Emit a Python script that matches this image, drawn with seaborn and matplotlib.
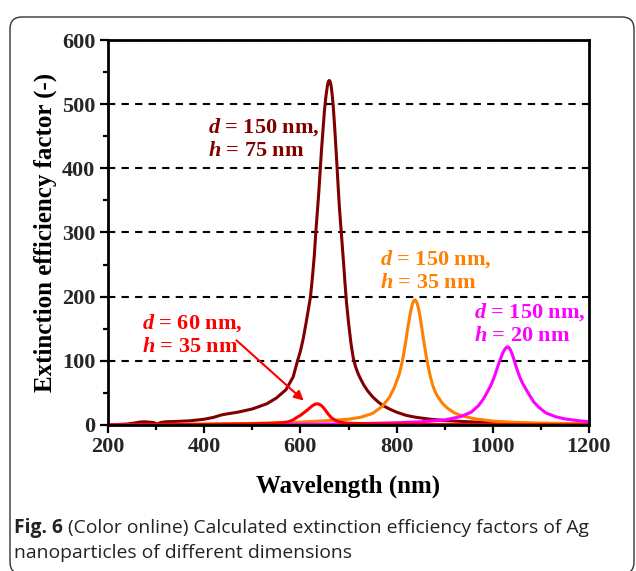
import numpy as np
import pandas as pd
import matplotlib
matplotlib.use("Agg")
import matplotlib.pyplot as plt
import seaborn as sns
from matplotlib.patches import FancyBboxPatch
from matplotlib.ticker import MultipleLocator

# ---- data ----
wl_d150_h75 = [200, 220, 240, 255, 265, 275, 285, 295, 302, 310, 320, 340, 370, 400, 420, 435, 445,
               470, 500, 530, 550, 570, 585, 594, 600, 606, 612, 617, 621, 625, 629, 632, 635, 638,
               641, 644, 647, 650, 653, 656, 658, 660, 662, 664, 666, 668, 670, 672, 674, 676, 678,
               681, 684, 687, 690, 693, 696, 700, 705, 710, 715, 720, 725, 732, 740, 750, 760, 770,
               785, 800, 820, 840, 870, 900, 950, 1000, 1100, 1200]
q_d150_h75 = [0.5, 0.8, 1.5, 3, 4.5, 5, 4.5, 3.8, 1.5, 4, 5, 5.5, 6.5, 9, 12, 15.5, 17,
              20, 25, 33, 42, 55, 75, 100, 115, 135, 160, 182, 200, 230, 265, 300, 330, 360,
              395, 430, 460, 490, 512, 528, 535, 537, 535, 528, 515, 500, 478, 455, 430, 405, 378,
              340, 310, 280, 250, 218, 190, 160, 128, 104, 90, 80, 72, 62, 53, 44, 37, 31,
              25, 20, 15, 12, 9, 7, 5, 3.5, 2, 1.2]

wl_d150_h35 = [200, 300, 400, 500, 600, 650, 700, 725, 750, 770, 785, 795, 805, 809, 812, 815, 818,
               821, 824, 827, 830, 833, 836, 838, 840, 843, 846, 849, 852, 855, 858, 862, 866, 870,
               875, 880, 885, 895, 906, 920, 933, 960, 1000, 1050, 1100, 1150, 1200]
q_d150_h35 = [0.3, 0.8, 1.5, 2.5, 4.5, 6.5, 9, 12, 18, 29, 43, 58, 78, 90, 100, 112, 125,
              140, 155, 168, 180, 189, 194, 195, 194, 189, 180, 168, 153, 138, 124, 105, 90, 76,
              62, 52, 45, 34, 26, 19, 15, 10, 6, 4, 3, 2.3, 1.8]

wl_d150_h20 = [200, 400, 600, 700, 800, 850, 900, 933, 955, 970, 980, 989, 994, 999, 1004, 1008,
               1012, 1016, 1020, 1024, 1027, 1030, 1033, 1036, 1040, 1044, 1048, 1052, 1057, 1062,
               1068, 1075, 1085, 1095, 1110, 1130, 1150, 1175, 1200]
q_d150_h20 = [0.1, 0.4, 1, 1.8, 3.5, 5, 8, 13, 20, 30, 40, 52, 59, 67, 77, 86,
              95, 103, 111, 117, 120, 122, 121, 118, 111, 102, 92, 83, 73, 65,
              57, 48, 36, 28, 19, 13, 9.5, 7, 5]

wl_d60_h35 = [200, 300, 400, 500, 540, 560, 575, 585, 593, 600, 607, 614, 620, 626, 631, 635, 639,
              644, 649, 654, 659, 665, 672, 680, 690, 700, 750, 800, 900, 1000, 1200]
q_d60_h35 = [0.3, 0.6, 1, 1.8, 2.5, 3.5, 5, 8, 12, 15, 19, 23, 27, 30.5, 32.5, 33, 32.5,
             30, 26, 21, 16, 11, 7.5, 5, 3.5, 2.8, 1.8, 1.2, 0.8, 0.6, 0.4]

series_names = ["d150_h75", "d150_h35", "d150_h20", "d60_h35"]
series_colors = ["#800000", "#ff8000", "#ff00ff", "#ff0000"]
annot_texts = ["$d$ = 150 nm,\n$h$ = 75 nm", "$d$ = 150 nm,\n$h$ = 35 nm",
               "$d$ = 150 nm,\n$h$ = 20 nm", "$d$ = 60 nm,\n$h$ = 35 nm"]
annot_pos = [(408, 446), (765, 241), (961, 158), (270, 141)]

x_ticks = [200, 400, 600, 800, 1000, 1200]
y_ticks = [0, 100, 200, 300, 400, 500, 600]
xlabel = "Wavelength (nm)"
ylabel = "Extinction efficiency factor (-)"
caption_bold = "Fig. 6"
caption_rest = " (Color online) Calculated extinction efficiency factors of Ag"
caption_line2 = "nanoparticles of different dimensions"

df = pd.concat([
    pd.DataFrame({"wl": w, "q": q, "series": n})
    for w, q, n in zip([wl_d150_h75, wl_d150_h35, wl_d150_h20, wl_d60_h35],
                       [q_d150_h75, q_d150_h35, q_d150_h20, q_d60_h35],
                       series_names)
], ignore_index=True)

# ---- style ----
sns.set_theme(style="ticks")
plt.rcParams['font.family'] = ['Liberation Serif', 'DejaVu Serif']
plt.rcParams['font.weight'] = 'bold'
plt.rcParams['mathtext.fontset'] = 'custom'
plt.rcParams['mathtext.it'] = 'Liberation Serif:italic:bold'
plt.rcParams['mathtext.rm'] = 'Liberation Serif:bold'
plt.rcParams['mathtext.bf'] = 'Liberation Serif:bold'

fig = plt.figure(figsize=(6.36, 5.71), dpi=100)
fig.patch.set_facecolor("white")
ax = fig.add_axes([108 / 636, 1 - 425 / 571, 481 / 636, 385 / 571])

sns.lineplot(data=df, x="wl", y="q", hue="series", hue_order=series_names,
             palette=dict(zip(series_names, series_colors)), estimator=None,
             lw=2.2, legend=False, ax=ax)
for ln in ax.get_lines():
    ln.set_solid_joinstyle('round')
    ln.set_solid_capstyle('round')

ax.set_xlim(200, 1200)
ax.set_ylim(0, 600)
ax.set_xticks(x_ticks)
ax.set_yticks(y_ticks)
ax.xaxis.set_minor_locator(MultipleLocator(100))
ax.yaxis.set_minor_locator(MultipleLocator(50))
ax.tick_params(which='major', direction='out', length=6, width=1.6, labelsize=16, pad=3, color='black')
ax.tick_params(which='minor', direction='out', length=3.5, width=1.6, color='black')
ax.tick_params(top=False, right=False, which='both')
for lab in ax.get_xticklabels() + ax.get_yticklabels():
    lab.set_fontweight('bold')
for s in ax.spines.values():
    s.set_visible(True)
    s.set_linewidth(2)
    s.set_color('black')

ax.yaxis.grid(True, which='major', color='black', lw=1.5, linestyle=(0, (3.5, 3)))
ax.set_axisbelow(True)

ax.set_xlabel(xlabel, fontsize=18, fontweight='bold', color='black')
ax.set_ylabel(ylabel, fontsize=18, fontweight='bold', color='black')
ax.xaxis.set_label_coords(0.5, -0.128)
ax.yaxis.set_label_coords(-0.106, 0.5)

for txt, (tx, ty), c in zip(annot_texts, annot_pos, series_colors):
    ax.text(tx, ty, txt, color=c, fontsize=16, fontweight='bold', ha='left', va='center',
            linespacing=1.2)

ax.annotate("", xy=(607, 38), xytext=(467, 132),
            arrowprops=dict(arrowstyle='-|>', color='#ff0000', lw=1.5, mutation_scale=14,
                            shrinkA=0, shrinkB=0))

# ---- caption and frame ----
frame = FancyBboxPatch((0.10, -0.03), 6.24, 5.57, boxstyle="round,pad=0,rounding_size=0.12",
                       transform=fig.dpi_scale_trans, fill=False, ec='#333333', lw=1.0)
fig.patches.append(frame)

cap_size = 13.9
t1 = fig.text(14 / 636, 1 - 528 / 571, caption_bold, fontfamily='Open Sans', fontweight='bold',
              fontsize=cap_size, color='#222222', va='center', ha='left')
plt.annotate(caption_rest, xy=(1, 0.5), xycoords=t1, va='center', ha='left',
             fontfamily='Open Sans', fontweight='normal', fontsize=cap_size, color='#222222',
             annotation_clip=False)
fig.text(14 / 636, 1 - 553 / 571, caption_line2, fontfamily='Open Sans', fontweight='normal',
         fontsize=cap_size, color='#222222', va='center', ha='left')

fig.savefig("out.png", dpi=100, facecolor="white")
